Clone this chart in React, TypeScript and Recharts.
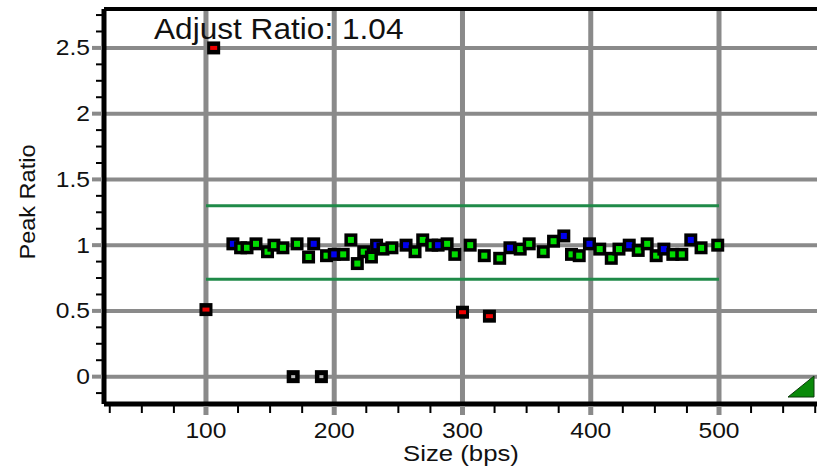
import { ReferenceLine, Scatter, ScatterChart, XAxis, YAxis } from "recharts"

const FONT = "'Liberation Sans', Arial, sans-serif"

// sized peaks that fell inside the ratio band (G = sample, B = reference dye)
const clusterSize = [
  121, 127, 132, 139, 148, 153, 160, 171, 180, 184, 194, 200, 207, 213, 218, 223, 229, 233,
  238, 245, 256, 263, 269, 276, 281, 288, 294, 306, 317, 329, 337, 345, 352, 363, 371, 379,
  385, 391, 399, 407, 416, 422, 430, 437, 444, 451, 457, 464, 471, 478, 486, 499,
]
const clusterRatio = [
  1.01, 0.98, 0.98, 1.01, 0.95, 1.0, 0.98, 1.01, 0.91, 1.01, 0.92, 0.93, 0.93, 1.04, 0.86, 0.95,
  0.91, 1.0, 0.97, 0.98, 1.0, 0.95, 1.04, 1.0, 1.0, 1.01, 0.93, 1.0, 0.92, 0.9, 0.98, 0.97, 1.01,
  0.95, 1.03, 1.07, 0.93, 0.92, 1.01, 0.97, 0.9, 0.97, 1.0, 0.96, 1.01, 0.92, 0.97, 0.93, 0.93,
  1.04, 0.98, 1.0,
]
const clusterDye = [
  "B", "G", "G", "G", "G", "G", "G", "G", "G", "B", "G", "B", "G", "G", "G", "G", "G", "B",
  "G", "G", "B", "G", "G", "G", "B", "G", "G", "G", "G", "G", "B", "G", "G", "G", "G", "B",
  "G", "G", "B", "G", "G", "G", "B", "G", "G", "G", "B", "G", "G", "B", "G", "G",
]

// outliers
const flaggedSize = [106, 100, 300, 321]
const flaggedRatio = [2.5, 0.51, 0.49, 0.46]

// peaks with no match
const missingSize = [168, 190]
const missingRatio = [0, 0]

const sizeTicks = [
  25, 50, 75, 100, 125, 150, 175, 200, 225, 250, 275, 300, 325, 350, 375, 400, 425, 450, 475,
  500, 525, 550, 575,
]
const ratioTicks = [
  -0.125, 0, 0.125, 0.25, 0.375, 0.5, 0.625, 0.75, 0.875, 1, 1.125, 1.25, 1.375, 1.5, 1.625,
  1.75, 1.875, 2, 2.125, 2.25, 2.375, 2.5, 2.625, 2.75,
]
const sizeGrid = [100, 200, 300, 400, 500]
const ratioGrid = [0, 0.5, 1, 1.5, 2, 2.5]
const bandLimits = [0.74, 1.3]
const bandFrom = 100
const bandTo = 500
const adjustRatio = 1.04

const sizeDomain = [20.5, 576.4]
const ratioDomain = [-0.208, 2.796]

const clusterData = clusterSize.map((s, i) => ({ size: s, ratio: clusterRatio[i], dye: clusterDye[i] }))
const flaggedData = flaggedSize.map((s, i) => ({ size: s, ratio: flaggedRatio[i] }))
const missingData = missingSize.map((s, i) => ({ size: s, ratio: missingRatio[i] }))

const GRID = "#8a8a8a"

const Marker = ({ cx, cy, fill, iw, ih }: any) => (
  <g>
    <rect x={cx - 6.5} y={cy - 6.5} width={13} height={13} fill="#000" />
    <rect x={cx - iw / 2} y={cy - ih / 2} width={iw} height={ih} fill={fill} />
  </g>
)

const clusterShape = (p: any) => (
  <Marker cx={p.cx} cy={p.cy} fill={p.payload.dye === "B" ? "#0000ee" : "#00dd00"} iw={6} ih={6} />
)
const flaggedShape = (p: any) => <Marker cx={p.cx} cy={p.cy} fill="#ee0000" iw={7} ih={4} />
const missingShape = (p: any) => <Marker cx={p.cx} cy={p.cy} fill="#b8b8b8" iw={4} ih={3} />

const SizeTick = ({ x, y, payload }: any) => {
  const v = payload.value
  if (v % 100 === 0) {
    return (
      <g>
        <line x1={x} x2={x} y1={y + 2} y2={y + 11} stroke={GRID} strokeWidth={5} />
        <text
          transform={`translate(${x},${y + 34}) scale(1.12,1)`}
          textAnchor="middle"
          fontSize={22}
          fontFamily={FONT}
          fill="#111"
        >
          {v}
        </text>
      </g>
    )
  }
  return <line x1={x} x2={x} y1={y + 2} y2={y + 9} stroke="#000" strokeWidth={2} />
}

const RatioTick = ({ x, y, payload }: any) => {
  const v = payload.value
  const major = Math.abs(v * 2 - Math.round(v * 2)) < 1e-6
  if (major) {
    return (
      <g>
        <line x1={x - 12} x2={x - 2} y1={y} y2={y} stroke={GRID} strokeWidth={4} />
        <text
          transform={`translate(${x - 14},${y + 7.5}) scale(1.12,1)`}
          textAnchor="end"
          fontSize={22}
          fontFamily={FONT}
          fill="#111"
        >
          {v}
        </text>
      </g>
    )
  }
  return <line x1={x - 8} x2={x - 2} y1={y} y2={y} stroke="#000" strokeWidth={2} />
}

export default function App() {
  return (
    <div style={{ position: "absolute", left: 0, top: 0, width: 817, height: 466, background: "#fff" }}>
      <ScatterChart width={817} height={466} margin={{ top: 9, right: 0, left: 0, bottom: 0 }}>
        <XAxis
          type="number"
          dataKey="size"
          domain={sizeDomain}
          ticks={sizeTicks}
          interval={0}
          allowDataOverflow
          height={62}
          tickSize={0}
          tickMargin={0}
          tickLine={false}
          axisLine={{ stroke: "#000", strokeWidth: 5 }}
          tick={<SizeTick />}
        />
        <YAxis
          type="number"
          dataKey="ratio"
          domain={ratioDomain}
          ticks={ratioTicks}
          interval={0}
          allowDataOverflow
          width={104}
          tickSize={0}
          tickMargin={0}
          tickLine={false}
          axisLine={{ stroke: "#000", strokeWidth: 5 }}
          tick={<RatioTick />}
        />
        {sizeGrid.map((v) => (
          <ReferenceLine key={"x" + v} x={v} stroke={GRID} strokeWidth={5} />
        ))}
        {ratioGrid.map((v) => (
          <ReferenceLine key={"y" + v} y={v} stroke={GRID} strokeWidth={4} />
        ))}
        <ReferenceLine y={ratioDomain[1]} stroke="#000" strokeWidth={4} />
        {bandLimits.map((v) => (
          <ReferenceLine
            key={"b" + v}
            segment={[
              { x: bandFrom, y: v },
              { x: bandTo, y: v },
            ]}
            stroke="#1f8a48"
            strokeWidth={3}
          />
        ))}
        <Scatter data={missingData} shape={missingShape} isAnimationActive={false} />
        <Scatter data={flaggedData} shape={flaggedShape} isAnimationActive={false} />
        <Scatter data={clusterData} shape={clusterShape} isAnimationActive={false} />
      </ScatterChart>
      <svg
        width={817}
        height={466}
        style={{ position: "absolute", left: 0, top: 0, pointerEvents: "none" }}
      >
        <text
          transform="translate(154,39) scale(1.09,1)"
          fontSize={29}
          fontFamily={FONT}
          fill="#111"
        >
          {`Adjust Ratio: ${adjustRatio}`}
        </text>
        <text
          transform="translate(461,461) scale(1.12,1)"
          textAnchor="middle"
          fontSize={23}
          fontFamily={FONT}
          fill="#111"
        >
          Size (bps)
        </text>
        <text
          transform="translate(35,202) rotate(-90) scale(1.07,1)"
          textAnchor="middle"
          fontSize={22}
          fontFamily={FONT}
          fill="#111"
        >
          Peak Ratio
        </text>
        <polygon points="788,397 814,397 814,376" fill="#0a8a0a" stroke="#0b3b0b" strokeWidth={1} />
      </svg>
    </div>
  )
}
